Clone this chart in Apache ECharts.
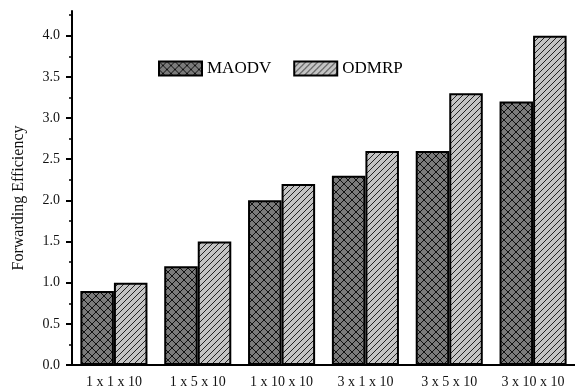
<!DOCTYPE html>
<html>
<head>
<meta charset="utf-8">
<script src="https://cdn.jsdelivr.net/npm/echarts@6/dist/echarts.min.js"></script>
<style>
html,body{margin:0;padding:0;background:#fff;}
#chart{width:575px;height:389px;}
</style>
</head>
<body>
<div id="chart"></div>
<script>
const categories = ['1 x 1 x 10', '1 x 5 x 10', '1 x 10 x 10', '3 x 1 x 10', '3 x 5 x 10', '3 x 10 x 10'];
const maodv = [0.9, 1.2, 2.0, 2.3, 2.6, 3.2];
const odmrp = [1.0, 1.5, 2.2, 2.6, 3.3, 4.0];
const seriesNames = ['MAODV', 'ODMRP'];
const yTicks = [0, 0.5, 1.0, 1.5, 2.0, 2.5, 3.0, 3.5, 4.0];

// Hatch fills: cross-hatch on dark gray, forward slashes on light gray
function crossHatch() {
  const s = 8, c = document.createElement('canvas');
  c.width = s; c.height = s;
  const g = c.getContext('2d');
  g.fillStyle = '#7b7b7b'; g.fillRect(0, 0, s, s);
  g.strokeStyle = '#111'; g.lineWidth = 1;
  g.beginPath();
  g.moveTo(-1, -1); g.lineTo(s + 1, s + 1);
  g.moveTo(-1, s + 1); g.lineTo(s + 1, -1);
  g.stroke();
  return c;
}
function slashHatch() {
  const s = 6, c = document.createElement('canvas');
  c.width = s; c.height = s;
  const g = c.getContext('2d');
  g.fillStyle = '#c4c4c4'; g.fillRect(0, 0, s, s);
  g.strokeStyle = '#222'; g.lineWidth = 1;
  g.beginPath();
  g.moveTo(-1, s + 1); g.lineTo(s + 1, -1);
  g.moveTo(-1 - s, s + 1); g.lineTo(1, -1);
  g.moveTo(s - 1, s + 1); g.lineTo(2 * s + 1, -1);
  g.stroke();
  return c;
}

const font = 'Liberation Serif, Times New Roman, serif';
const chart = echarts.init(document.getElementById('chart'));
chart.setOption({
  animation: false,
  textStyle: { fontFamily: font },
  grid: { left: 72, top: 11, bottom: 23.5, right: -7.5 },
  legend: {
    data: seriesNames,
    left: 158, top: 60,
    padding: 0,
    icon: 'rect',
    itemWidth: 43, itemHeight: 14,
    itemGap: 22,
    textStyle: { fontFamily: font, fontSize: 17, color: '#000' }
  },
  xAxis: [{
    type: 'category',
    data: categories,
    axisLine: { lineStyle: { color: '#000', width: 2 } },
    axisTick: { alignWithLabel: true, length: 7, lineStyle: { color: '#000', width: 2 } },
    axisLabel: { color: '#111', fontSize: 14, fontFamily: font, margin: 10 }
  }, {
    type: 'category',
    data: categories,
    position: 'bottom',
    axisLine: { show: false },
    axisTick: { length: 3, lineStyle: { color: '#000', width: 2 } },
    axisLabel: { show: false }
  }],
  yAxis: {
    type: 'value',
    name: 'Forwarding Efficiency',
    nameLocation: 'middle',
    nameGap: 45,
    nameTextStyle: { fontFamily: font, fontSize: 16, color: '#111', padding: [0, 20, 0, 0] },
    min: 0, max: 4.3, interval: 0.5,
    axisLine: { show: true, lineStyle: { color: '#000', width: 2 } },
    axisTick: { show: true, length: 6, customValues: yTicks, lineStyle: { color: '#000', width: 2 } },
    minorTick: { show: true, splitNumber: 2, length: 3, lineStyle: { color: '#000', width: 1.5 } },
    splitLine: { show: false },
    axisLabel: {
      color: '#111', fontSize: 14, fontFamily: font, margin: 12,
      customValues: yTicks,
      formatter: v => v.toFixed(1)
    }
  },
  series: [{
    name: seriesNames[0],
    type: 'bar',
    data: maodv,
    barGap: '0%',
    barCategoryGap: '20%',
    itemStyle: { color: { image: crossHatch(), repeat: 'repeat' }, borderColor: '#000', borderWidth: 2 }
  }, {
    name: seriesNames[1],
    type: 'bar',
    data: odmrp,
    barGap: '0%',
    barCategoryGap: '20%',
    itemStyle: { color: { image: slashHatch(), repeat: 'repeat' }, borderColor: '#000', borderWidth: 2 }
  }]
});
</script>
</body>
</html>
